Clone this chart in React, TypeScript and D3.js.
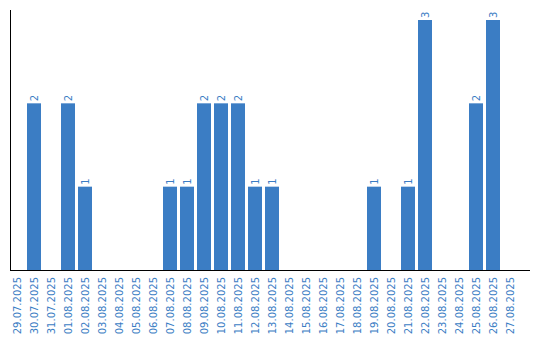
import React from "react";
import * as d3 from "d3";

const dates = [
  "29.07.2025", "30.07.2025", "31.07.2025", "01.08.2025", "02.08.2025",
  "03.08.2025", "04.08.2025", "05.08.2025", "06.08.2025", "07.08.2025",
  "08.08.2025", "09.08.2025", "10.08.2025", "11.08.2025", "12.08.2025",
  "13.08.2025", "14.08.2025", "15.08.2025", "16.08.2025", "17.08.2025",
  "18.08.2025", "19.08.2025", "20.08.2025", "21.08.2025", "22.08.2025",
  "23.08.2025", "24.08.2025", "25.08.2025", "26.08.2025", "27.08.2025",
];
const counts = [
  0, 2, 0, 2, 1,
  0, 0, 0, 0, 1,
  1, 2, 2, 2, 1,
  1, 0, 0, 0, 0,
  0, 1, 0, 1, 3,
  0, 0, 2, 3, 0,
];

const W = 540;
const H = 340;
const BLUE = "#3b7dc4";
const FONT = "DejaVu Sans, Verdana, sans-serif";

export default function App() {
  const left = 10;
  const bottom = 270;
  const x = d3
    .scaleBand<string>()
    .domain(dates)
    .range([left, left + dates.length * 17])
    .paddingInner(3 / 17)
    .paddingOuter(1.5 / 17)
    .align(0);
  const y = d3.scaleLinear().domain([0, 3]).range([bottom, 20]);
  const bw = x.bandwidth();

  return (
    <svg
      width={W}
      height={H}
      style={{ position: "absolute", left: 0, top: 0, display: "block" }}
    >
      <rect width={W} height={H} fill="#fff" />
      {dates.map((d, i) => {
        const v = counts[i];
        if (!v) return null;
        return (
          <rect
            key={d}
            x={x(d) as number}
            y={y(v)}
            width={bw}
            height={bottom - y(v)}
            fill={BLUE}
          />
        );
      })}
      {dates.map((d, i) => {
        const v = counts[i];
        if (!v) return null;
        const cx = (x(d) as number) + bw / 2;
        const ty = y(v) - 2;
        return (
          <text
            key={"v" + d}
            transform={`translate(${cx},${ty}) rotate(-90)`}
            dy="0.35em"
            fontSize={10}
            fontFamily={FONT}
            fill={BLUE}
            textAnchor="start"
          >
            {v}
          </text>
        );
      })}
      <line x1={left + 0.5} x2={left + 0.5} y1={10} y2={bottom + 1} stroke="#000" strokeWidth={1} />
      <line x1={left} x2={530} y1={bottom + 0.5} y2={bottom + 0.5} stroke="#000" strokeWidth={1} />
      {dates.map((d) => {
        const cx = (x(d) as number) + bw / 2;
        return (
          <text
            key={"l" + d}
            transform={`translate(${cx},${bottom + 7}) rotate(-90)`}
            dy="0.35em"
            fontSize={10}
            fontFamily={FONT}
            fill={BLUE}
            textAnchor="end"
          >
            {d}
          </text>
        );
      })}
    </svg>
  );
}
